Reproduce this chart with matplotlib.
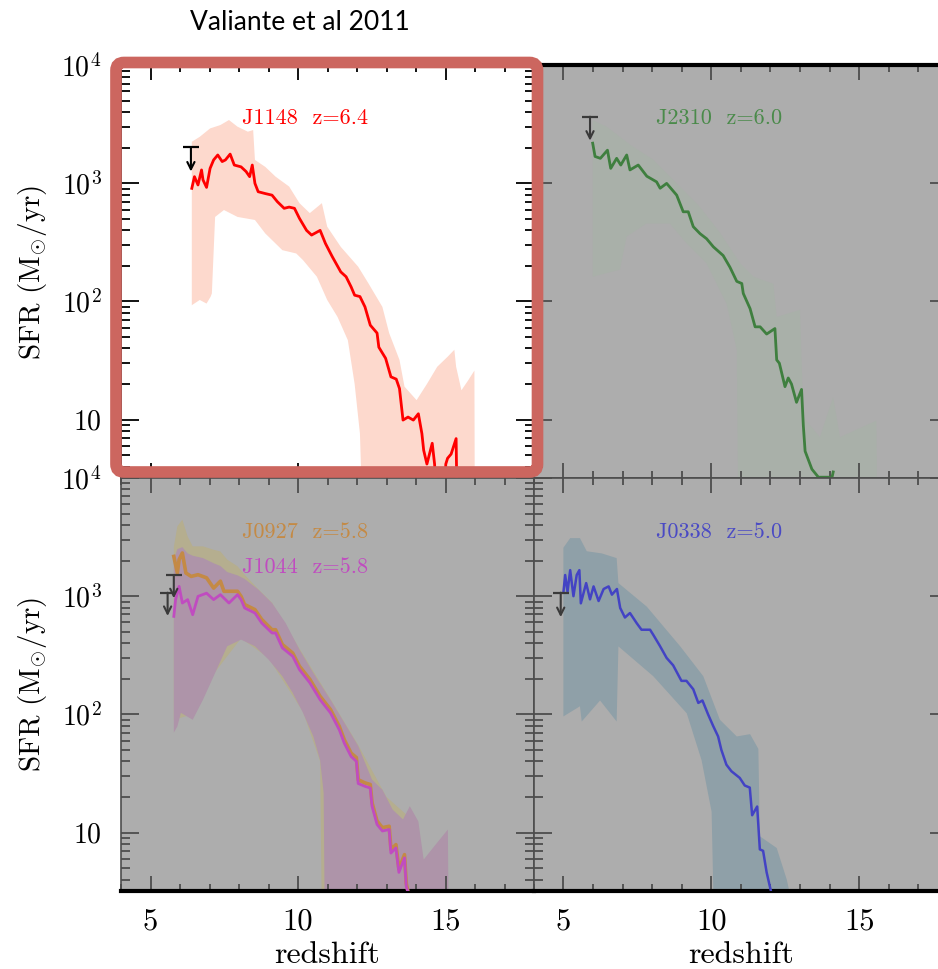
import numpy as np
import matplotlib
matplotlib.use('Agg')
import matplotlib.pyplot as plt
from matplotlib.patches import FancyBboxPatch
from matplotlib.ticker import FixedLocator, MultipleLocator, LogLocator, NullFormatter

plt.rcParams['font.family'] = 'serif'
plt.rcParams['font.serif'] = ['cmr10', 'DejaVu Serif']
plt.rcParams['mathtext.fontset'] = 'cm'
plt.rcParams['axes.unicode_minus'] = False

# ---- data (redshift, SFR in Msun/yr) ----
red_z = [6.40, 6.49, 6.61, 6.73, 6.78, 6.90, 7.02, 7.14, 7.28, 7.43, 7.54, 7.70, 7.84, 8.07, 8.24, 8.36, 8.45, 8.54, 8.65, 8.89,
         9.12, 9.30, 9.53, 9.70, 9.88, 10.05, 10.29, 10.46, 10.75, 10.93, 11.16, 11.45, 11.63, 11.80, 11.92, 12.10, 12.27, 12.45, 12.68, 12.74,
         12.97, 13.15, 13.33, 13.44, 13.56, 13.73, 13.91, 14.08, 14.20, 14.26, 14.37, 14.55, 14.63, 14.66, 14.98, 15.01, 15.07, 15.19, 15.36, 15.38]
red_sfr = [908, 1140, 970, 1300, 1070, 925, 1340, 1580, 1740, 1530, 1580, 1770, 1430, 1380, 1260, 1140, 1430, 1000, 850, 820,
           795, 700, 615, 630, 615, 505, 400, 365, 400, 310, 240, 178, 162, 133, 113, 110, 90, 63, 54, 41,
           33, 23, 22, 18.3, 9.9, 10.5, 9.9, 11.2, 7.6, 5.5, 4.2, 6.3, 4.2, 3.0, 3.0, 4.2, 4.7, 5.1, 6.9, 3.0]
red_hi_z = [6.40, 6.67, 7.02, 7.37, 7.66, 7.95, 8.30, 8.48, 8.54, 8.89, 9.24, 9.70, 10.05, 10.40, 10.81, 10.99, 11.45, 12.04, 12.39, 12.86,
            13.09, 13.44, 13.61, 14.02, 14.37, 14.72, 15.07, 15.30, 15.36, 15.54, 15.77, 15.98, 15.99]
red_hi = [2250, 2480, 2920, 3120, 3440, 3020, 2740, 2830, 1580, 1380, 1140, 940, 680, 560, 680, 430, 290, 197, 142, 90,
          54, 32, 19, 14.6, 20, 28, 34, 39, 28, 17.7, 21.5, 26, 3.0]
red_lo_z = [6.40, 6.67, 6.90, 7.04, 7.08, 7.19, 7.49, 7.95, 8.54, 8.89, 9.47, 9.94, 10.17, 10.64, 10.99, 11.34, 11.69, 11.92, 12.10, 12.15]
red_lo = [93, 103, 96, 110, 117, 520, 595, 520, 490, 377, 272, 255, 224, 162, 103, 74, 47, 20, 7.6, 3.0]

green_z = [5.99, 6.07, 6.25, 6.49, 6.60, 6.80, 6.94, 7.14, 7.25, 7.53, 7.82, 8.15, 8.27, 8.49, 8.83, 9.05, 9.22, 9.39, 9.62, 9.84,
           10.07, 10.40, 10.63, 10.86, 11.03, 11.08, 11.31, 11.48, 11.65, 11.87, 12.15, 12.21, 12.30, 12.49, 12.60, 12.71, 12.88, 13.05, 13.11, 13.17,
           13.40, 13.62, 13.99, 14.05, 14.12]
green_sfr = [2190, 1690, 1630, 1910, 1340, 1630, 1430, 1740, 1300, 1430, 1150, 1030, 910, 1000, 795, 575, 575, 430, 375, 340,
             290, 245, 195, 148, 142, 117, 87, 61, 61, 53, 59, 32, 30, 19, 22.5, 20, 14, 18, 8.9, 5.4,
             3.8, 3.25, 3.25, 3.0, 3.6]
green_hi_z = [5.99, 6.46, 6.91, 7.36, 8.04, 8.83, 9.62, 10.30, 10.98, 11.43, 12.10, 12.21, 13.00, 13.11, 13.67, 14.12, 14.35, 15.58, 15.60]
green_hi = [3430, 3020, 2480, 2040, 1590, 1000, 630, 380, 210, 162, 141, 74, 85, 10.5, 7.1, 15.5, 7.1, 9.8, 3.0]
green_lo_z = [5.99, 6.46, 6.91, 7.14, 7.81, 8.60, 9.17, 9.84, 10.52, 10.86, 10.90]
green_lo = [162, 174, 186, 355, 457, 457, 309, 210, 95, 39, 3.0]

orange_z = [5.79, 5.91, 5.97, 6.08, 6.20, 6.38, 6.61, 6.90, 7.14, 7.37, 7.49, 7.95, 8.07, 8.19, 8.54, 8.77, 9.12, 9.24, 9.47, 9.82,
            10.05, 10.40, 10.75, 11.10, 11.40, 11.57, 11.80, 11.98, 12.04, 12.27, 12.45, 12.51, 12.68, 12.86, 13.09, 13.15, 13.32, 13.42, 13.61, 13.67,
            13.75]
orange_sfr = [2170, 1570, 2040, 2320, 1570, 1470, 1520, 1430, 1170, 1340, 1100, 1100, 996, 850, 770, 635, 520, 520, 390, 330,
              255, 198, 142, 110, 79, 61, 47, 43, 28, 26.3, 25.5, 17.9, 12.5, 11.0, 11.3, 7.2, 7.9, 4.9, 6.5, 3.7,
              3.0]
orange_hi_z = [5.79, 5.91, 6.08, 6.26, 6.43, 6.78, 7.14, 7.37, 7.60, 7.95, 8.19, 8.65, 9.12, 10.05, 11.10, 12.04, 13.0, 14.0, 14.5]
orange_hi = [2600, 3900, 4440, 3200, 2640, 2640, 2470, 2390, 2040, 1790, 1520, 1150, 880, 360, 135, 55, 20, 12, 3.0]
orange_lo_z = [5.79, 6.43, 7.14, 8.07, 9.00, 10.17, 10.75, 10.80]
orange_lo = [90, 100, 220, 440, 300, 105, 40, 3.0]

mag_z = [5.79, 5.85, 5.97, 6.08, 6.26, 6.43, 6.61, 6.90, 7.14, 7.37, 7.66, 7.95, 8.07, 8.19, 8.54, 8.77, 9.12, 9.24, 9.47, 9.82,
         10.05, 10.40, 10.75, 11.10, 11.40, 11.57, 11.80, 11.98, 12.04, 12.27, 12.45, 12.51, 12.68, 12.86, 13.09, 13.15, 13.32, 13.42, 13.61, 13.67,
         13.75]
mag_sfr = [675, 935, 1210, 875, 935, 697, 996, 1060, 935, 1030, 875, 1030, 935, 795, 720, 593, 488, 488, 365, 310,
           239, 185, 133, 103, 74, 57, 44, 40, 26, 24.6, 23.8, 16.7, 11.7, 10.3, 10.6, 6.7, 7.4, 4.6, 6.1, 3.5,
           3.0]
mag_hi_z = [5.79, 5.91, 6.08, 6.26, 6.43, 6.78, 7.14, 7.37, 7.60, 7.95, 8.19, 8.65, 9.12, 9.58, 10.05, 10.52, 11.10, 11.57, 12.04, 12.51,
            12.86, 13.21, 13.56, 13.79, 14.08, 14.26, 14.61, 15.08, 15.10]
mag_hi = [2040, 2500, 2600, 2300, 2200, 2100, 1900, 1800, 1600, 1500, 1400, 1140, 875, 593, 353, 224, 133, 85, 54, 28,
          23, 15.6, 12.9, 16.7, 12.4, 5.9, 7.6, 10.6, 3.0]
mag_lo_z = [5.79, 5.91, 6.03, 6.43, 6.78, 7.14, 7.60, 8.07, 8.54, 9.00, 9.47, 9.82, 10.17, 10.52, 10.75, 10.87, 10.90]
mag_lo = [70, 79, 103, 90, 133, 210, 377, 429, 377, 291, 210, 152, 103, 65, 41, 21.6, 3.0]

blue_z = [5.00, 5.06, 5.14, 5.23, 5.34, 5.45, 5.54, 5.59, 5.77, 5.90, 6.02, 6.19, 6.36, 6.53, 6.64, 6.81, 6.92, 7.08, 7.25, 7.48,
          7.64, 7.93, 8.04, 8.26, 8.49, 8.71, 8.99, 9.16, 9.39, 9.56, 9.70, 9.89, 10.06, 10.23, 10.34, 10.51, 10.68, 10.96, 11.13, 11.30,
          11.38, 11.55, 11.64, 11.75, 11.87, 12.04]
blue_sfr = [1070, 1510, 1090, 1660, 1000, 1510, 1660, 870, 1290, 940, 1210, 910, 1150, 1210, 1030, 1150, 795, 660, 720, 590,
            520, 520, 470, 380, 300, 260, 192, 192, 163, 125, 131, 100, 80, 65, 50, 37.5, 33, 29, 25, 24,
            14, 16.6, 7.2, 7.0, 4.6, 3.0]
blue_hi_z = [5.00, 5.23, 5.56, 5.79, 6.30, 6.80, 6.86, 7.82, 8.95, 9.73, 10.29, 10.86, 11.31, 11.59, 11.64, 12.21, 12.55, 12.66]
blue_hi = [2570, 3100, 3100, 2400, 2300, 2100, 1290, 815, 376, 210, 90, 65, 68, 51, 9.3, 7.4, 4.0, 3.0]
blue_lo_z = [5.00, 5.56, 5.62, 6.24, 6.80, 6.86, 8.04, 9.17, 9.67, 10.01, 10.07]
blue_lo = [96, 117, 87, 131, 87, 376, 210, 102, 41, 15, 3.0]

# observed upper limits: redshift, cap value, arrow tip
lim_tl = ([6.37], [2020], [1260])
lim_tr = ([5.90], [3670], [2300])
lim_bl = ([5.79, 5.58], [1510, 1070], [960, 680])
lim_br = ([4.91], [1070], [665])

xticks = [5, 10, 15]
xticklabels = ['5', '10', '15']
yticks = [10, 100, 1000, 10000]
yticklabels = ['10', '$10^2$', '$10^3$', '$10^4$']

W, H = 938, 969
fig = plt.figure(figsize=(W / 100, H / 100), dpi=100)
fig.patch.set_facecolor('white')


def pos(x0, x1, y0, y1):
    # pixel box (top-left origin) -> figure fraction
    return [x0 / W, 1 - y1 / H, (x1 - x0) / W, (y1 - y0) / H]


ax_tl = fig.add_axes(pos(121, 534, 65.3, 478))
ax_tr = fig.add_axes(pos(533.8, 948, 65.3, 478))
ax_bl = fig.add_axes(pos(121, 534, 478, 891))
ax_br = fig.add_axes(pos(533.8, 948, 478, 891))

GREY = '#adadad'
DK = '#4d4d4d'


def style(ax, face, tc, left, bottom):
    ax.set_facecolor(face)
    ax.set_yscale('log')
    ax.set_xlim(4, 18)
    ax.set_ylim(3.2, 1e4)
    ax.xaxis.set_major_locator(FixedLocator(xticks))
    ax.xaxis.set_minor_locator(MultipleLocator(1))
    ax.set_yticks(yticks, yticklabels)
    ax.yaxis.set_minor_locator(LogLocator(base=10, subs=np.arange(2, 10), numticks=12))
    ax.yaxis.set_minor_formatter(NullFormatter())
    ax.set_xticks(xticks, xticklabels)
    ax.tick_params(which='both', direction='in', top=True, right=True, color=tc, width=1.3)
    ax.tick_params(axis='x', which='major', length=11, pad=12.5, labelsize=22, labelbottom=bottom)
    ax.tick_params(axis='x', which='minor', length=5)
    ax.tick_params(axis='y', which='major', length=13, pad=14, labelsize=20, labelleft=left)
    ax.tick_params(axis='y', which='minor', length=6.5)
    for s in ax.spines.values():
        s.set_color(tc)
        s.set_linewidth(1.2)


def band(ax, hz, hv, lz, lv, color, alpha=1.0):
    ax.fill(list(hz) + list(lz[::-1]), list(hv) + list(lv[::-1]), color=color, lw=0, alpha=alpha, zorder=1)


def limits(ax, lim, color):
    zs, tops, tips = lim
    ax.plot(zs, tops, ls='none', marker='_', ms=11, mew=1.6, color=color, zorder=4)
    for z, t, b in zip(zs, tops, tips):
        ax.annotate('', xy=(z, b), xytext=(z, t),
                    arrowprops=dict(arrowstyle='->', color=color, lw=1.5, mutation_scale=13,
                                    shrinkA=0, shrinkB=0), zorder=4)


style(ax_tl, 'white', 'black', True, False)
style(ax_tr, GREY, DK, False, False)
style(ax_bl, GREY, DK, True, True)
style(ax_br, GREY, DK, False, True)
ax_tr.spines['top'].set_color('black')
ax_tr.spines['top'].set_linewidth(3)
for a in (ax_bl, ax_br):
    a.spines['bottom'].set_color('black')
    a.spines['bottom'].set_linewidth(3)

# top left: J1148
band(ax_tl, red_hi_z, red_hi, red_lo_z, red_lo, '#fdd9cd')
ax_tl.plot(red_z, red_sfr, color='#ff0000', lw=2, zorder=3)
limits(ax_tl, lim_tl, 'black')

# top right: J2310
band(ax_tr, green_hi_z, green_hi, green_lo_z, green_lo, '#a9b0a9')
ax_tr.plot(green_z, green_sfr, color='#3f7f3f', lw=2, zorder=3)
limits(ax_tr, lim_tr, '#3a3a3a')

# bottom left: J0927, J1044
band(ax_bl, orange_hi_z, orange_hi, orange_lo_z, orange_lo, '#b5ae8f')
band(ax_bl, mag_hi_z, mag_hi, mag_lo_z, mag_lo, '#ae94a9')
ax_bl.plot(orange_z, orange_sfr, color='#c48a45', lw=2.6, zorder=3)
ax_bl.plot(mag_z, mag_sfr, color='#c04cc0', lw=2, zorder=3)
limits(ax_bl, lim_bl, '#3a3a3a')

# bottom right: J0338
band(ax_br, blue_hi_z, blue_hi, blue_lo_z, blue_lo, '#8fa0a8')
ax_br.plot(blue_z, blue_sfr, color='#4343c4', lw=1.8, zorder=3)
limits(ax_br, lim_br, '#3a3a3a')

# labels
lab = dict(ha='center', va='center', fontsize=16)
fig.text(305 / W, 1 - 118 / H, 'J1148  z=6.4', color='#ff0000', **lab)
fig.text(719 / W, 1 - 118 / H, 'J2310  z=6.0', color='#4a8a4a', **lab)
fig.text(305 / W, 1 - 532 / H, 'J0927  z=5.8', color='#c48a45', **lab)
fig.text(305 / W, 1 - 567 / H, 'J1044  z=5.8', color='#c04cc0', **lab)
fig.text(719 / W, 1 - 532 / H, 'J0338  z=5.0', color='#4a4ac4', **lab)

for yc in (272, 684):
    fig.text(33 / W, 1 - yc / H, r'SFR (M$_{\odot}$/yr)', rotation=90, ha='center', va='center', fontsize=21)
for xc in (327, 741):
    fig.text(xc / W, 1 - 955 / H, 'redshift', ha='center', va='center', fontsize=23)

fig.text(300 / W, 1 - 22 / H, 'Valiante et al 2011', ha='center', va='center',
         fontsize=19, family=['Lato', 'DejaVu Sans'])

# highlight box round the first panel
box = FancyBboxPatch((116 / 100, (H - 472) / 100), 421.5 / 100, 409.5 / 100,
                     boxstyle='round,pad=0,rounding_size=0.08', transform=fig.dpi_scale_trans,
                     fill=False, edgecolor='#cc665f', linewidth=8.4, zorder=10)
fig.add_artist(box)

fig.savefig('out.png', dpi=100)
